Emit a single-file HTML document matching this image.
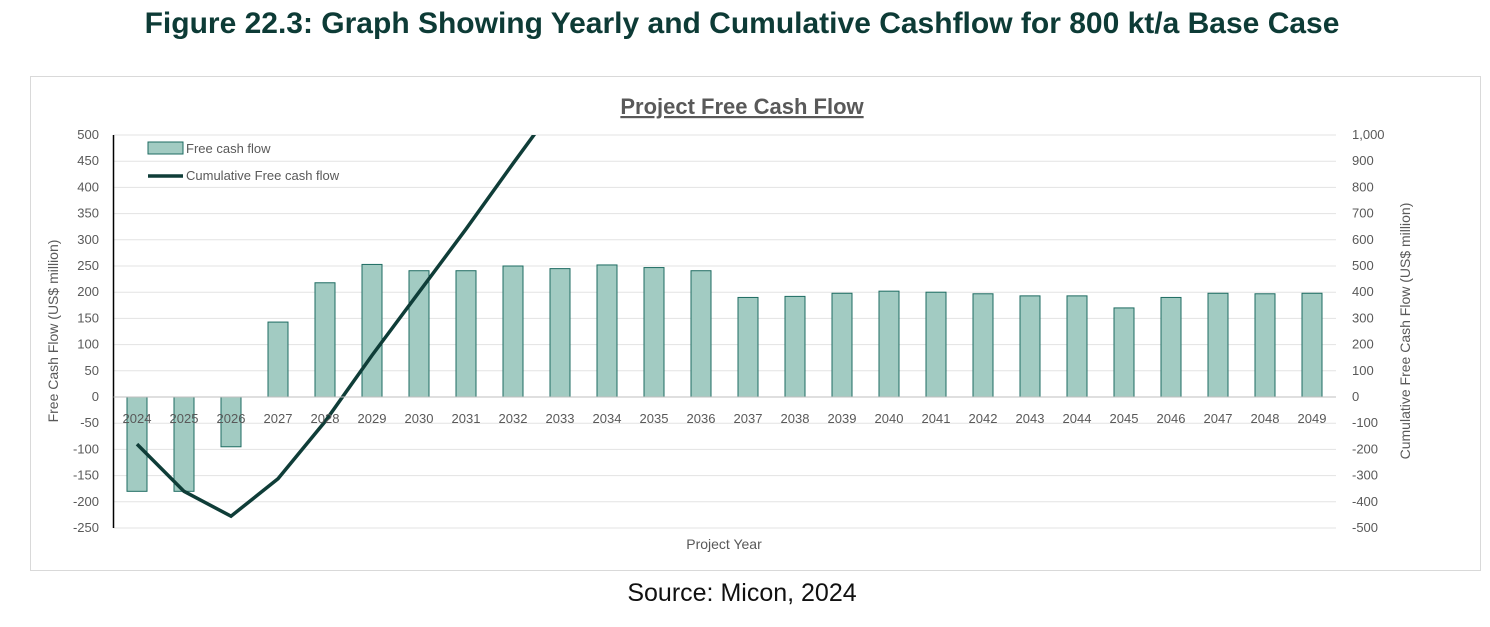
<!DOCTYPE html>
<html><head><meta charset="utf-8"><style>
body{margin:0;width:1490px;height:622px;background:#fff;font-family:"Liberation Sans",sans-serif;overflow:hidden}
</style></head><body>
<svg id="c" width="1490" height="622" xmlns="http://www.w3.org/2000/svg">
<text x="742" y="33" text-anchor="middle" font-size="30" font-weight="bold" fill="#0d3b36">Figure 22.3: Graph Showing Yearly and Cumulative Cashflow for 800 kt/a Base Case</text>
<rect x="30.5" y="76.5" width="1450" height="494" fill="#fff" stroke="#d9d9d9"/>
<text x="742" y="114" text-anchor="middle" font-size="22" font-weight="bold" fill="#595959" text-decoration="underline">Project Free Cash Flow</text>
<g id="grid"></g><g id="bars"></g><g id="line"></g><g id="axes"></g>
<rect x="148" y="142" width="35" height="12" fill="#a2cbc2" stroke="#1d6b61"/>
<text x="186" y="153" font-size="13" fill="#595959">Free cash flow</text>
<line x1="148" y1="176" x2="183" y2="176" stroke="#0f3d38" stroke-width="3.5"/>
<text x="186" y="180" font-size="13" fill="#595959">Cumulative Free cash flow</text>
<text x="724" y="549" text-anchor="middle" font-size="14" fill="#595959">Project Year</text>
<text transform="translate(58,331) rotate(-90)" text-anchor="middle" font-size="14" fill="#595959">Free Cash Flow (US$ million)</text>
<text transform="translate(1410,331) rotate(-90)" text-anchor="middle" font-size="14" fill="#595959">Cumulative Free Cash Flow (US$ million)</text>
<text x="742" y="601" text-anchor="middle" font-size="25" fill="#111">Source: Micon, 2024</text>
</svg>
<script>
const years=[2024,2025,2026,2027,2028,2029,2030,2031,2032,2033,2034,2035,2036,2037,2038,2039,2040,2041,2042,2043,2044,2045,2046,2047,2048,2049];
const fcf=[-180,-180,-95,143,218,253,241,241,250,245,252,247,241,190,192,198,202,200,197,193,193,170,190,198,197,198];
const leftTicks=[500,450,400,350,300,250,200,150,100,50,0,-50,-100,-150,-200,-250];
const rightTicks=[1000,900,800,700,600,500,400,300,200,100,0,-100,-200,-300,-400,-500];
const NS="http://www.w3.org/2000/svg";
const X0=113.5,STEP=47,TOP=135,BOT=528;
function yL(v){return TOP+(500-v)/750*(BOT-TOP);}
function yR(v){return TOP+(1000-v)/1500*(BOT-TOP);}
function xC(i){return X0+STEP*(i+0.5);}
function mk(tag,at,parent){const e=document.createElementNS(NS,tag);for(const k in at)e.setAttribute(k,at[k]);document.getElementById(parent).appendChild(e);return e;}
leftTicks.forEach((t,i)=>{
  const g=mk('line',{x1:X0,x2:1336,y1:yL(t),y2:yL(t),stroke:'#e3e3e3'},'grid');
  
  
  const a=mk('text',{x:99,y:yL(t)+4,'text-anchor':'end','font-size':13,fill:'#595959'},'axes');a.textContent=t;
  
  
  const b=mk('text',{x:1352,y:yR(rightTicks[i])+4,'font-size':13,fill:'#595959'},'axes');b.textContent=rightTicks[i].toLocaleString('en-US');
  
  
});
fcf.forEach((v,i)=>{
  const y0=yL(0),y1=yL(v);
  const r=mk('rect',{x:xC(i)-10,y:Math.min(y0,y1),width:20,height:Math.abs(y1-y0),fill:'#a2cbc2',stroke:'#1d6b61','stroke-width':1},'bars');
  
  
  const t=mk('text',{x:xC(i),y:423,'text-anchor':'middle','font-size':13,fill:'#595959'},'axes');t.textContent=years[i];
  
  
});
let cum=0;const pts=[];
fcf.forEach((v,i)=>{cum+=v;pts.push(xC(i)+','+yR(cum));});
mk('clipPath',{id:'clp'},'line');
const cr=document.createElementNS(NS,'rect');document.getElementById('clp').appendChild(cr);
cr.setAttribute('x',X0);cr.setAttribute('y',TOP);cr.setAttribute('width',1240);cr.setAttribute('height',BOT-TOP);
const pl=mk('polyline',{points:pts.join(' '),fill:'none',stroke:'#0f3d38','stroke-width':3.5,'clip-path':'url(#clp)'},'line');


const ax=mk('line',{x1:X0,x2:X0,y1:TOP,y2:BOT,stroke:'#000','stroke-width':1.5},'axes');


const zx=mk('line',{x1:X0,x2:1336,y1:yL(0),y2:yL(0),stroke:'#bfbfbf'},'axes');


</script>
</body></html>
